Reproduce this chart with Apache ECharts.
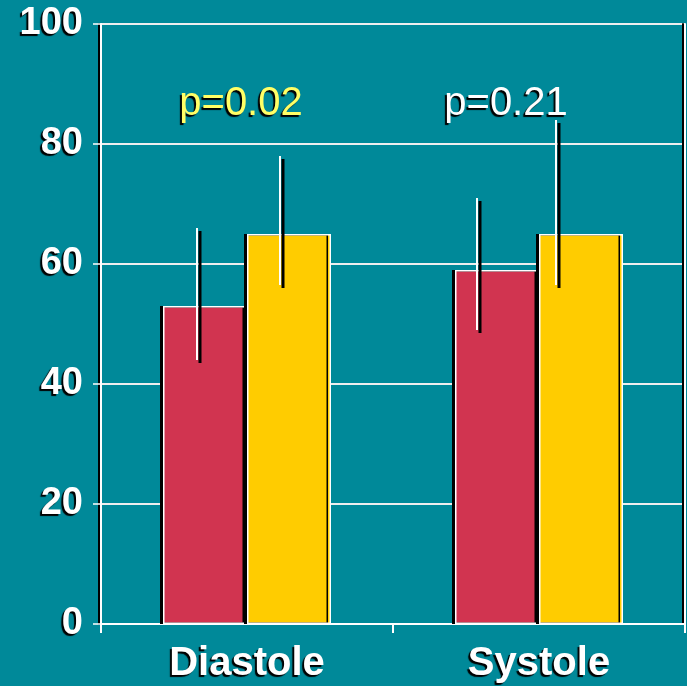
<!DOCTYPE html>
<html>
<head>
<meta charset="utf-8">
<script src="https://cdn.jsdelivr.net/npm/echarts@6/dist/echarts.min.js"></script>
<style>
    html, body { margin: 0; padding: 0; background: #008999; }
    #chart { width: 687px; height: 686px; }
</style>
</head>
<body>
<div id="chart"></div>
<script>
// values
var categories = ['Diastole', 'Systole'];
var redValues = [53, 59];
var yellowValues = [65, 65];
var redErrLow = [44, 49];
var redErrHigh = [66, 71];
var yellowErrLow = [56.5, 56.5];
var yellowErrHigh = [78, 84];
var pLabels = ['p=0.02', 'p=0.21'];
var pColors = ['#ffff66', '#ffffff'];

// horizontal shift (px) of each whisker from its category centre
var redShift = [-50, -62];
var yellowShift = [33, 17];
var pShift = [-6, -33];

var chart = echarts.init(document.getElementById('chart'));

function errData(low, high){
    var out = [];
    for (var i = 0; i < low.length; i++){
        out.push([i, low[i], high[i]]);
    }
    return out;
}

function errorBar(shift){
    return function(params, api){
        var top = api.coord([api.value(0), api.value(2)]);
        var bottom = api.coord([api.value(0), api.value(1)]);
        var x = top[0] + shift[params.dataIndex];
        return {
            type: 'group',
            children: [
                {type: 'line', shape: {x1: x + 3, y1: top[1] + 3, x2: x + 3, y2: bottom[1] + 3},
                    style: {stroke: '#000', lineWidth: 3}},
                {type: 'line', shape: {x1: x, y1: top[1], x2: x, y2: bottom[1]},
                    style: {stroke: '#fff', lineWidth: 2}}
            ]
        };
    };
}

var shadowText = {
    textShadowColor: '#000',
    textShadowBlur: 1,
    textShadowOffsetX: -2,
    textShadowOffsetY: 2
};

var pData = [];
for (var i = 0; i < pLabels.length; i++){
    pData.push({
        value: [i, 86.6],
        label: {
            formatter: pLabels[i],
            color: pColors[i],
            offset: [pShift[i], 0]
        }
    });
}

var barStyle = function(color){
    return {
        color: color,
        borderColor: '#fff',
        borderWidth: 1.5,
        shadowColor: '#000',
        shadowBlur: 0,
        shadowOffsetX: -3,
        shadowOffsetY: 0
    };
};

var option = {
    backgroundColor: '#008999',
    animation: false,
    grid: {left: 101, right: 2, top: 24, bottom: 62},
    xAxis: {
        type: 'category',
        data: categories,
        axisLine: {lineStyle: {color: '#fff', width: 2}},
        axisTick: {show: true, length: 9, lineStyle: {color: '#fff', width: 2}},
        axisLabel: echarts.util.extend({
            color: '#fff',
            fontFamily: 'Liberation Sans',
            fontWeight: 'bold',
            fontSize: 40,
            margin: 20
        }, shadowText)
    },
    yAxis: [{
        type: 'value',
        min: 0,
        max: 100,
        interval: 20,
        axisLine: {show: true, lineStyle: {color: '#fff', width: 2, shadowColor: '#000', shadowOffsetX: -2}},
        axisTick: {show: true, length: 8, lineStyle: {color: '#fff', width: 1.5}},
        splitLine: {lineStyle: {color: '#eeeeee', width: 2}},
        axisLabel: echarts.util.extend({
            color: '#fff',
            fontFamily: 'Liberation Sans',
            fontWeight: 'bold',
            fontSize: 38,
            margin: 18
        }, shadowText)
    }, {
        type: 'value',
        position: 'right',
        min: 0,
        max: 100,
        interval: 20,
        axisLine: {show: true, lineStyle: {color: '#fff', width: 2, shadowColor: '#000', shadowOffsetX: -2}},
        axisTick: {show: false},
        axisLabel: {show: false},
        splitLine: {show: false}
    }],
    series: [
        {
            type: 'bar',
            data: redValues,
            barWidth: 84,
            barGap: '0%',
            itemStyle: barStyle('#d13450')
        },
        {
            type: 'bar',
            data: yellowValues,
            barWidth: 84,
            barGap: '0%',
            itemStyle: barStyle('#ffcc00')
        },
        {
            type: 'custom',
            renderItem: errorBar(redShift),
            data: errData(redErrLow, redErrHigh),
            z: 5
        },
        {
            type: 'custom',
            renderItem: errorBar(yellowShift),
            data: errData(yellowErrLow, yellowErrHigh),
            z: 5
        },
        {
            type: 'scatter',
            symbolSize: 0,
            data: pData,
            z: 6,
            itemStyle: {opacity: 1},
            label: echarts.util.extend({
                show: true,
                position: 'inside',
                fontFamily: 'Liberation Sans',
                fontSize: 40
            }, shadowText)
        }
    ]
};

chart.setOption(option);
</script>
</body>
</html>
